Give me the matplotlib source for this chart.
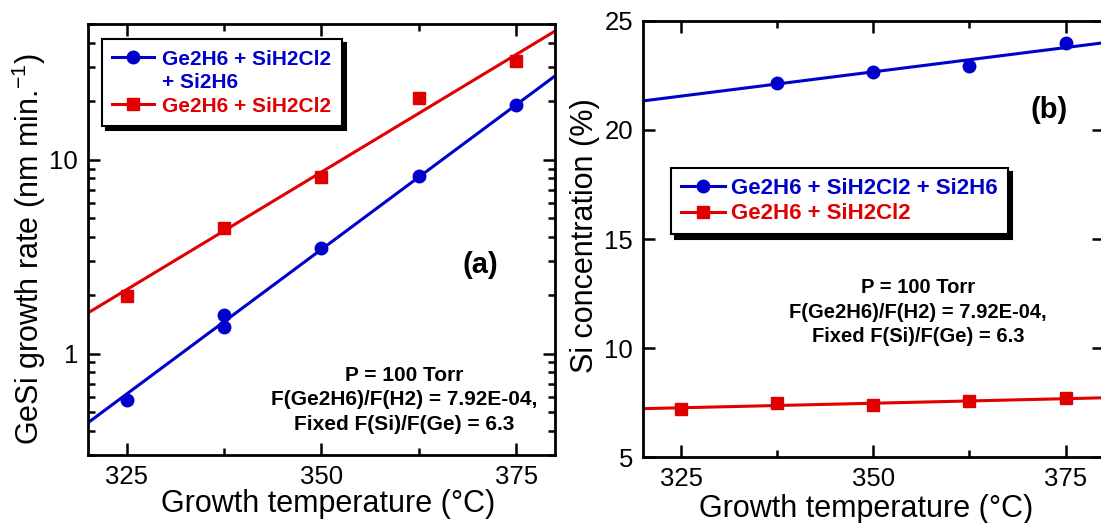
import matplotlib
matplotlib.use("Agg")
import matplotlib.pyplot as plt
import matplotlib.ticker as mticker
from matplotlib.lines import Line2D

plt.rcParams.update({
    "font.family": ["Liberation Sans", "DejaVu Sans"],
    "mathtext.fontset": "custom",
    "mathtext.rm": "Liberation Sans",
    "mathtext.it": "Liberation Sans:italic",
    "mathtext.bf": "Liberation Sans:bold",
    "axes.linewidth": 2.0,
})

BLUE = "#0000cc"
RED = "#e00000"

# panel (a): growth rate, nm/min
temp_a_blue = [325, 337.5, 337.5, 350, 362.5, 375]
rate_blue = [0.576, 1.585, 1.37, 3.52, 8.2, 19.2]
temp_a_red = [325, 337.5, 350, 362.5, 375]
rate_red = [1.99, 4.43, 8.16, 20.8, 32.1]
fit_temp = [320, 380]
fit_rate_blue = [0.44, 27.0]
fit_rate_red = [1.62, 46.0]

# panel (b): Si concentration, %
temp_b_blue = [337.5, 350, 362.5, 375]
si_blue = [22.14, 22.67, 22.95, 23.98]
temp_b_red = [325, 337.5, 350, 362.5, 375]
si_red = [7.19, 7.46, 7.39, 7.58, 7.69]
fit_si_blue = [21.33, 24.0]
fit_si_red = [7.22, 7.72]

labels_mix = ["Ge2H6 + SiH2Cl2", "+ Si2H6"]
label_dcs = "Ge2H6 + SiH2Cl2"
label_mix_one = "Ge2H6 + SiH2Cl2 + Si2H6"
cond_text = "P = 100 Torr\nF(Ge2H6)/F(H2) = 7.92E-04,\nFixed F(Si)/F(Ge) = 6.3"

fig = plt.figure(figsize=(11.01, 5.23), dpi=100)
ax1 = fig.add_axes([0.0799, 0.130, 0.4242, 0.824])
ax2 = fig.add_axes([0.5837, 0.126, 0.4190, 0.834])

LW = 2.2
MS = 9


def style_axes(ax):
    ax.tick_params(which="both", direction="in", top=True, right=True,
                   labelsize=18.5, pad=7, width=1.8)
    ax.tick_params(which="major", length=8.5)
    ax.tick_params(which="minor", length=5)
    ax.set_xlim(320, 380)
    ax.xaxis.set_major_locator(mticker.FixedLocator([325, 350, 375]))
    ax.xaxis.set_minor_locator(mticker.FixedLocator([337.5, 362.5]))
    ax.set_xlabel("Growth temperature (°C)", fontsize=22)


# ---- panel (a)
ax1.plot(fit_temp, fit_rate_blue, color=BLUE, lw=LW)
ax1.plot(fit_temp, fit_rate_red, color=RED, lw=LW)
ax1.plot(temp_a_blue, rate_blue, "o", color=BLUE, ms=MS, zorder=3)
ax1.plot(temp_a_red, rate_red, "s", color=RED, ms=MS, zorder=3)
ax1.set_yscale("log")
ax1.set_ylim(0.3, 50)
style_axes(ax1)
ax1.yaxis.set_major_formatter(mticker.FormatStrFormatter("%g"))
ax1.yaxis.set_minor_formatter(mticker.NullFormatter())
ax1.set_ylabel("GeSi growth rate (nm min.$^{-1}$)", fontsize=22)
ax1.yaxis.set_label_coords(-0.085, 0.478)
ax1.xaxis.set_label_coords(0.515, -0.078)

h_blue = Line2D([], [], color=BLUE, lw=LW, marker="o", ms=MS)
h_none = Line2D([], [], linestyle="none")
h_red = Line2D([], [], color=RED, lw=LW, marker="s", ms=MS)
leg1 = ax1.legend([h_blue, h_none, h_red], [labels_mix[0], labels_mix[1], label_dcs],
                  loc="upper left", bbox_to_anchor=(0.030, 0.965), borderaxespad=0,
                  prop={"weight": "bold", "size": 15}, labelcolor=[BLUE, BLUE, RED],
                  handlelength=2.0, handletextpad=0.4, labelspacing=0.22,
                  borderpad=0.5, fancybox=False, edgecolor="black",
                  framealpha=1, shadow={"color": "black", "alpha": 1, "ox": 3, "oy": -3})
leg1.get_frame().set_linewidth(1.5)

ax1.text(0.84, 0.44, "(a)", transform=ax1.transAxes, fontsize=21,
         fontweight="bold", ha="center", va="center")
ax1.text(0.676, 0.128, cond_text, transform=ax1.transAxes, fontsize=15,
         fontweight="bold", ha="center", va="center", linespacing=1.35)

# ---- panel (b)
ax2.plot(fit_temp, fit_si_blue, color=BLUE, lw=LW)
ax2.plot(fit_temp, fit_si_red, color=RED, lw=LW)
ax2.plot(temp_b_blue, si_blue, "o", color=BLUE, ms=MS, zorder=3)
ax2.plot(temp_b_red, si_red, "s", color=RED, ms=MS, zorder=3)
ax2.set_ylim(5, 25)
style_axes(ax2)
ax2.yaxis.set_major_locator(mticker.FixedLocator([5, 10, 15, 20, 25]))
ax2.yaxis.set_minor_locator(mticker.NullLocator())
ax2.set_ylabel("Si concentration (%)", fontsize=22)
ax2.yaxis.set_label_coords(-0.093, 0.507)
ax2.xaxis.set_label_coords(0.484, -0.084)

leg2 = ax2.legend([h_blue, h_red], [label_mix_one, label_dcs],
                  loc="upper left", bbox_to_anchor=(0.0613, 0.663), borderaxespad=0,
                  prop={"weight": "bold", "size": 16}, labelcolor=[BLUE, RED],
                  handlelength=2.0, handletextpad=0.25, labelspacing=0.2,
                  borderpad=0.45, fancybox=False, edgecolor="black",
                  framealpha=1, shadow={"color": "black", "alpha": 1, "ox": 3, "oy": -3})
leg2.get_frame().set_linewidth(1.5)

ax2.text(372.9, 20.92, "(b)", fontsize=21, fontweight="bold",
         ha="center", va="center")
ax2.text(355.85, 11.65, cond_text, fontsize=14.5, fontweight="bold",
         ha="center", va="center", linespacing=1.35)

fig.savefig("out.png", dpi=100)
